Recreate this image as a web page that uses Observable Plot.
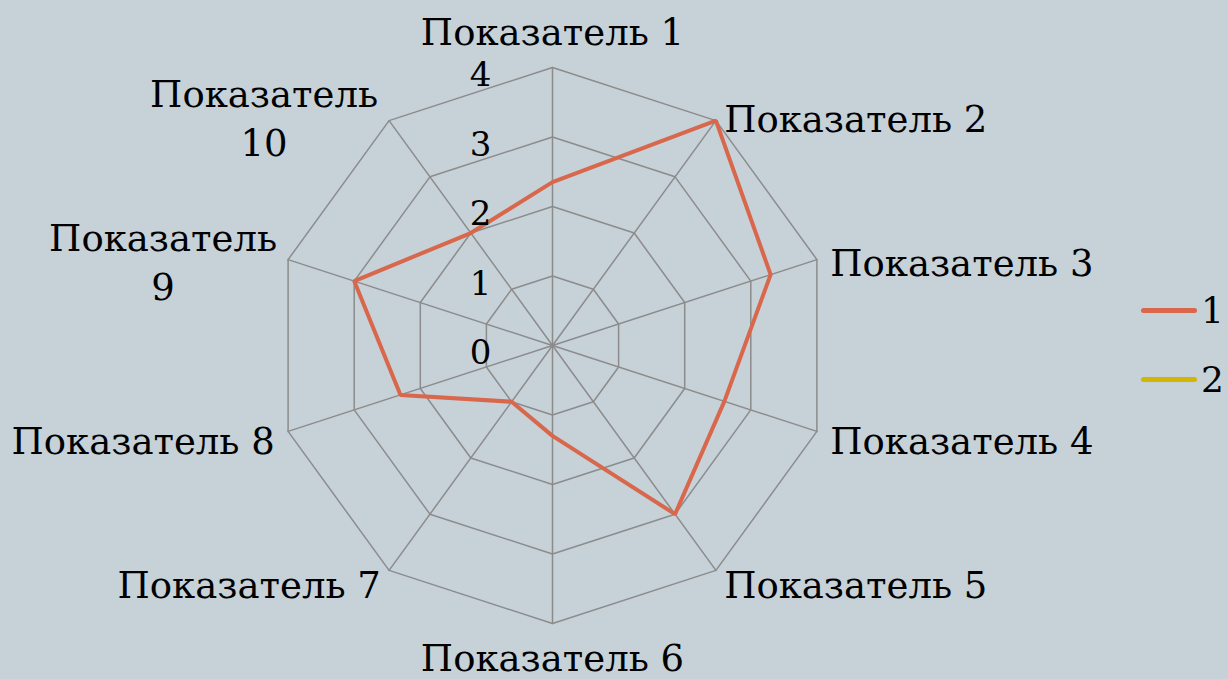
<!DOCTYPE html>
<html>
<head>
<meta charset="utf-8">
<script src="https://cdn.jsdelivr.net/npm/d3@7"></script>
<script src="https://cdn.jsdelivr.net/npm/@observablehq/plot@0.6"></script>
<style>
  html, body { margin: 0; padding: 0; background: #C6D1D8; }
  #wrap { position: relative; width: 1228px; height: 679px; overflow: hidden; }
  #legend { position: absolute; left: 1141px; top: 287px; font-family: "DejaVu Serif", serif; font-size: 36px; color: #000; }
  #legend .item { display: flex; align-items: center; height: 46px; margin-bottom: 23px; }
  #legend .sw { width: 56px; height: 5px; border-radius: 3px; margin-right: 4px; }
</style>
</head>
<body>
<div id="wrap"><div id="chart"></div><div id="legend"></div></div>
<script>
const categories = ["Показатель 1","Показатель 2","Показатель 3","Показатель 4","Показатель 5","Показатель 6","Показатель 7","Показатель 8","Показатель 9","Показатель 10"];
const labelText = ["Показатель 1","Показатель 2","Показатель 3","Показатель 4","Показатель 5","Показатель 6","Показатель 7","Показатель 8","Показатель\n9","Показатель\n10"];
const series1 = [2.35, 4, 3.3, 2.6, 3, 1.3, 1, 2.3, 3, 2];
const series2 = [0, 0, 0, 0, 0, 0, 0, 0, 0, 0];
const seriesNames = ["1", "2"];
const seriesColors = ["#D8674B", "#D4B600"];
const ticks = [0, 1, 2, 3, 4];

const W = 1228, H = 679, cx = 552, cy = 345, unit = 69.5;
const n = categories.length;
const ang = i => i * 2 * Math.PI / n;
const px = (r, i) => r * Math.sin(ang(i));
const py = (r, i) => r * Math.cos(ang(i));

// grid rings
const rings = [];
for (const t of ticks.filter(t => t > 0)) {
  for (let i = 0; i <= n; i++) rings.push({ring: t, x: px(t, i % n), y: py(t, i % n)});
}
const spokes = [];
categories.forEach((c, i) => { spokes.push({k: c, x: 0, y: 0}); spokes.push({k: c, x: px(4, i), y: py(4, i)}); });

function seriesPts(vals, name) {
  const pts = vals.map((v, i) => ({s: name, x: px(v, i), y: py(v, i)}));
  pts.push({...pts[0]});
  return pts;
}
const s1 = seriesPts(series1, seriesNames[0]);
const s2 = seriesPts(series2, seriesNames[1]);

const font = "DejaVu Serif";
const fs = 37;

function labelMark(i) {
  const a = ang(i), s = Math.sin(a), c = Math.cos(a);
  const d = [{t: labelText[i], x: px(4, i), y: py(4, i)}];
  let opt = {x: "x", y: "y", text: "t", fontSize: fs, fontFamily: font, fill: "#000", lineHeight: 1.32};
  if (Math.abs(s) < 0.01) {
    opt = {...opt, textAnchor: "middle", dy: c > 0 ? -38 : 32};
  } else if (labelText[i].includes("\n")) {
    opt = {...opt, textAnchor: "middle", dx: -125, dy: 3.6 - 10 * c};
  } else {
    opt = {...opt, textAnchor: s > 0 ? "start" : "end", dx: Math.sign(s) * 14 * Math.abs(s), dy: 3.6 - 10 * c};
  }
  return Plot.text(d, opt);
}

const chart = Plot.plot({
  width: W, height: H,
  marginTop: 0, marginRight: 0, marginBottom: 0, marginLeft: 0,
  style: {background: "transparent"},
  x: {type: "linear", domain: [-cx / unit, (W - cx) / unit], range: [0, W], axis: null},
  y: {type: "linear", domain: [-(H - cy) / unit, cy / unit], range: [H, 0], axis: null},
  marks: [
    Plot.line(s2, {x: "x", y: "y", stroke: seriesColors[1], strokeWidth: 4, strokeLinecap: "butt"}),
    Plot.line(rings, {x: "x", y: "y", z: "ring", stroke: "#8C8C8C", strokeWidth: 1.5, curve: "linear"}),
    Plot.line(spokes, {x: "x", y: "y", z: "k", stroke: "#8C8C8C", strokeWidth: 1.5}),
    Plot.line(s1, {x: "x", y: "y", stroke: seriesColors[0], strokeWidth: 4, strokeLinejoin: "miter"}),
    Plot.text(ticks, {x: 0, y: d => d, text: d => String(d), dx: -72, dy: 8, fontSize: 34, fontFamily: font, fill: "#000"}),
    ...categories.map((c, i) => labelMark(i))
  ]
});
document.getElementById("chart").appendChild(chart);

const leg = document.getElementById("legend");
seriesNames.forEach((nm, k) => {
  const it = document.createElement("div");
  it.className = "item";
  it.innerHTML = `<div class="sw" style="background:${seriesColors[k]}"></div><span>${nm}</span>`;
  leg.appendChild(it);
});
</script>
</body>
</html>
